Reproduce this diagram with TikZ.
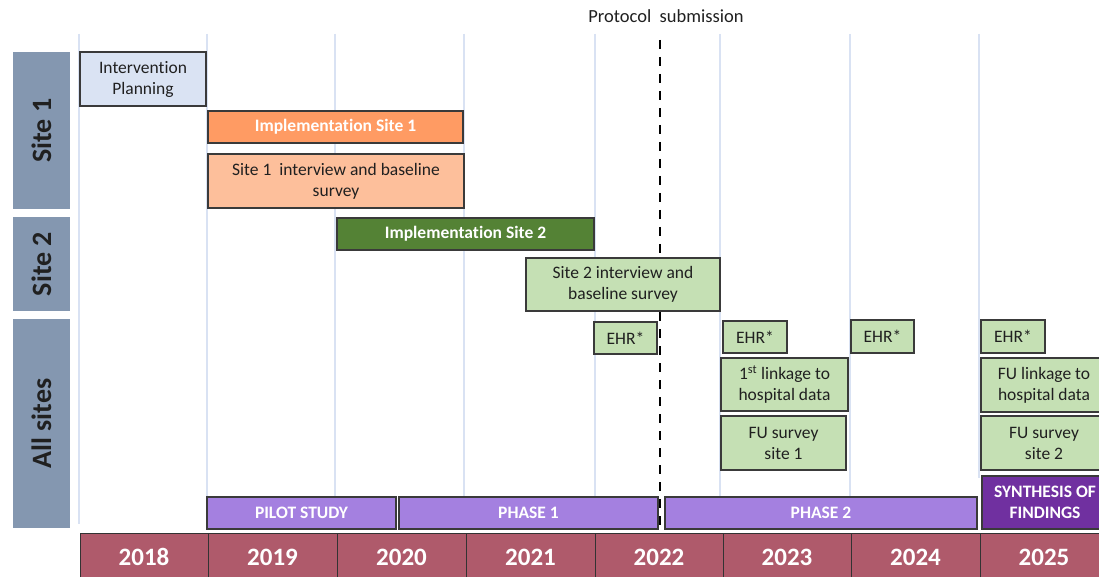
\documentclass[tikz,border=0pt]{standalone}
\usepackage{fontspec}
\setmainfont{Carlito}[Ligatures=NoCommon]
\definecolor{bandc}{HTML}{8497B0}
\definecolor{gridc}{HTML}{D9E2F3}
\definecolor{planc}{HTML}{DAE3F3}
\definecolor{imp1c}{HTML}{FF9B63}
\definecolor{int1c}{HTML}{FDBF9B}
\definecolor{imp2c}{HTML}{548235}
\definecolor{greenc}{HTML}{C5E0B4}
\definecolor{purpc}{HTML}{A480E0}
\definecolor{synthc}{HTML}{7030A0}
\definecolor{yearc}{HTML}{AF5A6B}
\definecolor{linec}{HTML}{3A3A3A}
\definecolor{txtc}{HTML}{202020}
\begin{document}
\begin{tikzpicture}[x=1pt,y=-1pt,
  box/.style={draw=linec, line width=1.3pt, inner sep=1pt, align=center,
    font=\fontsize{17.5}{21}\selectfont, text=txtc},
  wbox/.style={box, text=white, font=\fontsize{17.5}{21}\selectfont\bfseries},
  band/.style={fill=bandc, inner sep=0pt, text=txtc,
    font=\fontsize{28}{30}\selectfont\bfseries},
  yearcell/.style={fill=yearc, draw=black!80, line width=1pt, inner sep=0pt,
    text=white, font=\fontsize{25}{27}\selectfont\bfseries,
    minimum height=48pt},
  gridline/.style={draw=gridc, line width=2pt},
  protocol/.style={dashed, dash pattern=on 9pt off 8pt, line width=2.4pt, draw=black}
]
\useasboundingbox (0,0) rectangle (1099,577);
\clip (0,0) rectangle (1099,577);
\fill[white] (0,0) rectangle (1099,577);

% grid lines
\foreach \gx/\gy in {79/524,207/530,335/530,464/530,595/530,720/530,850/530,979/478}
  \draw[gridline] (\gx,34) -- (\gx,\gy);

% protocol submission
\node[font=\fontsize{18.5}{20}\selectfont, text=txtc] (proto) at (666,16) {Protocol\ \ submission};
\coordinate (ptop) at (660,40);
\coordinate (pbot) at (660,531);
\draw[protocol] (ptop) -- (pbot);

% left bands
\node[band, rotate=90, minimum width=157pt, minimum height=57pt] (s1) at (41.5,130.5) {Site 1};
\node[band, rotate=90, minimum width=94pt, minimum height=57pt] (s2) at (41.5,264) {Site 2};
\node[band, rotate=90, minimum width=209pt, minimum height=57pt] (all) at (41.5,423.5) {All sites};

% site 1
\node[box, fill=planc, minimum width=126pt, minimum height=54pt] (plan) at (143,79) {Intervention\\Planning};
\node[wbox, fill=imp1c, minimum width=255pt, minimum height=32pt] (imp1) at (335.5,127) {Implementation Site 1};
\node[box, fill=int1c, minimum width=256pt, minimum height=54pt] (int1) at (336,181) {Site 1\ \ interview and baseline\\survey};

% site 2
\node[wbox, fill=imp2c, minimum width=257pt, minimum height=32pt] (imp2) at (465.5,234) {Implementation Site 2};
\node[box, fill=greenc, minimum width=194pt, minimum height=53pt] (int2) at (623,284.5) {Site 2 interview and\\baseline survey};

% all sites
\node[box, fill=greenc, minimum width=63pt, minimum height=32pt] (ehr1) at (625.5,338) {EHR*};
\node[box, fill=greenc, minimum width=64pt, minimum height=32pt] (ehr2) at (755,337) {EHR*};
\node[box, fill=greenc, minimum width=63pt, minimum height=33pt] (ehr3) at (882.5,336.5) {EHR*};
\node[box, fill=greenc, minimum width=64pt, minimum height=33pt] (ehr4) at (1013,336.5) {EHR*};
\node[box, fill=greenc, minimum width=127pt, minimum height=53pt] (link1) at (784.5,384.5) {1\textsuperscript{st} linkage to\\hospital data};
\node[box, fill=greenc, minimum width=125pt, minimum height=54pt] (fus1) at (783.5,443) {FU survey\\site 1};
\node[box, fill=greenc, minimum width=126pt, minimum height=54pt] (link2) at (1044,385) {FU linkage to\\hospital data};
\node[box, fill=greenc, minimum width=126pt, minimum height=54pt] (fus2) at (1044,443) {FU survey\\site 2};
\node[wbox, fill=synthc, minimum width=126pt, minimum height=53pt] (synth) at (1045,502.5) {SYNTHESIS OF\\FINDINGS};

% phases
\node[wbox, fill=purpc, minimum width=189pt, minimum height=32pt] (pilot) at (301.5,513) {PILOT STUDY};
\node[wbox, fill=purpc, minimum width=259pt, minimum height=32pt] (ph1) at (528.5,513) {PHASE 1};
\node[wbox, fill=purpc, minimum width=312pt, minimum height=32pt] (ph2) at (821,513) {PHASE 2};

% years
\node[yearcell, minimum width=128pt] (y18) at (144,557) {2018};
\node[yearcell, minimum width=129pt] (y19) at (272.5,557) {2019};
\node[yearcell, minimum width=129pt] (y20) at (401.5,557) {2020};
\node[yearcell, minimum width=129pt] (y21) at (530.5,557) {2021};
\node[yearcell, minimum width=128pt] (y22) at (659,557) {2022};
\node[yearcell, minimum width=128pt] (y23) at (787,557) {2023};
\node[yearcell, minimum width=129pt] (y24) at (915.5,557) {2024};
\node[yearcell, minimum width=128pt] (y25) at (1044,557) {2025};
\end{tikzpicture}
\end{document}
